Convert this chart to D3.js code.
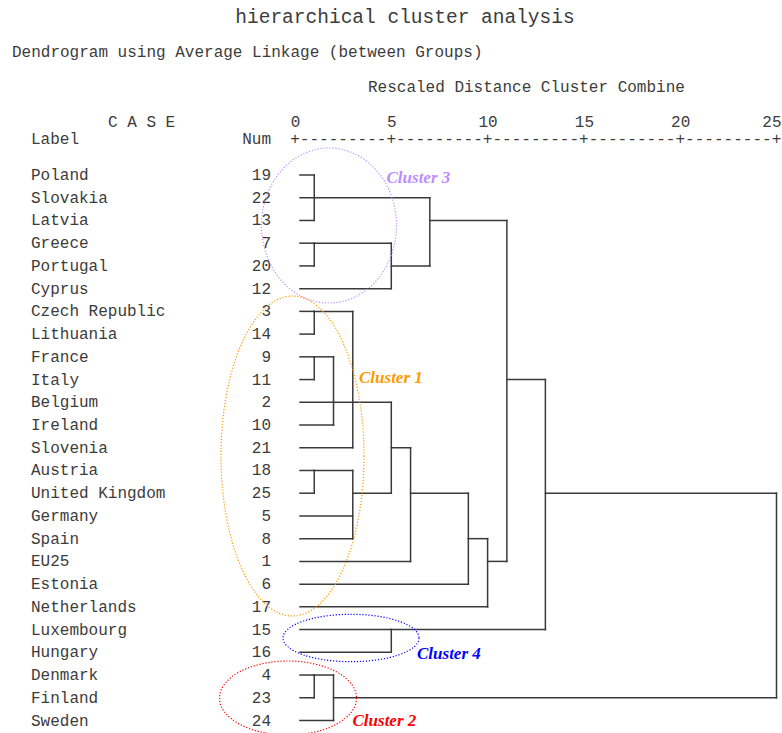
<!doctype html>
<html>
<head>
<meta charset="utf-8">
<title>hierarchical cluster analysis</title>
<script src="https://d3js.org/d3.v7.min.js"></script>
<style>
    body { margin: 0; background: #fff; }
    svg text.mono {
        font-family: "Liberation Mono", "Courier New", monospace;
        font-size: 16px;
        fill: #3c3c3c;
    }
    .link { fill: none; stroke: #3a3a3a; stroke-width: 1.5; }
    .cluster-label {
        font-family: "Liberation Serif", "Times New Roman", serif;
        font-size: 17px;
        font-weight: bold;
        font-style: italic;
    }
</style>
</head>
<body>
<div id="chart"></div>
<script>

// case labels and case numbers, in dendrogram order
const caseLabels = ["Poland", "Slovakia", "Latvia", "Greece", "Portugal", "Cyprus",
    "Czech Republic", "Lithuania", "France", "Italy", "Belgium", "Ireland", "Slovenia",
    "Austria", "United Kingdom", "Germany", "Spain", "EU25", "Estonia", "Netherlands",
    "Luxembourg", "Hungary", "Denmark", "Finland", "Sweden"];
const caseNums = [19, 22, 13, 7, 20, 12, 3, 14, 9, 11, 2, 10, 21, 18, 25, 5, 8, 1, 6, 17, 15, 16, 4, 23, 24];

// merges: children ("L" = leaf index, "M" = earlier merge), rescaled distance, row the joined line leaves on
const mergeKids = [
    ["L0", "L1", "L2"], ["L3", "L4"], ["M1", "L5"], ["M0", "M2"],
    ["L6", "L7"], ["L8", "L9"], ["M5", "L10", "L11"], ["M4", "M6", "L12"],
    ["L13", "L14"], ["M8", "L15", "L16"], ["M7", "M9"], ["M10", "L17"],
    ["M11", "L18"], ["M12", "L19"], ["M3", "M13"], ["L20", "L21"],
    ["M14", "M15"], ["L22", "L23"], ["M17", "L24"], ["M16", "M18"]
];
const mergeDist = [1, 1, 5, 7, 1, 1, 2, 3, 1, 3, 5, 6, 9, 10, 11, 5, 13, 1, 2, 25];
const mergeRow  = [1, 3, 4, 2, 6, 8, 10, 10, 13, 14, 12, 14, 16, 17, 9, 20, 14, 22, 23, 18];

// axis ticks
const axisTicks = [0, 5, 10, 15, 20, 25];

// cluster annotations
const clusterNames = ["Cluster 3", "Cluster 1", "Cluster 4", "Cluster 2"];
const clusterColors = ["#bd8dff", "#ff9a00", "#0000ff", "#ff0000"];

const w = 782, h = 733;

const svg = d3.select("#chart").append("svg")
    .attr("width", w)
    .attr("height", h);

const xScale = d3.scaleLinear().domain([0, 25]).range([295, 776.5]);
const yScale = d3.scaleLinear().domain([0, caseLabels.length - 1]).range([175, 720.5]);
const charW = (xScale(25) - xScale(0)) / 50;

// headings
svg.append("text").attr("class", "mono")
    .attr("x", 405).attr("y", 23)
    .attr("text-anchor", "middle")
    .style("font-size", "19.5px")
    .text("hierarchical cluster analysis");

svg.append("text").attr("class", "mono")
    .attr("x", 12).attr("y", 57)
    .text("Dendrogram using Average Linkage (between Groups)");

svg.append("text").attr("class", "mono")
    .attr("x", 368).attr("y", 92)
    .text("Rescaled Distance Cluster Combine");

svg.append("text").attr("class", "mono")
    .attr("x", 108).attr("y", 127)
    .text("C A S E");

svg.append("text").attr("class", "mono")
    .attr("x", 31).attr("y", 144)
    .text("Label");

svg.append("text").attr("class", "mono")
    .attr("x", 271).attr("y", 144)
    .attr("text-anchor", "end")
    .text("Num");

// axis: tick numbers from d3.axisTop, then the +----+ ruler
const xAxis = d3.axisTop(xScale)
    .tickValues(axisTicks)
    .tickSize(0)
    .tickPadding(0)
    .tickFormat(d3.format("d"));

const axisG = svg.append("g")
    .attr("transform", "translate(0,127)")
    .call(xAxis);
axisG.select(".domain").remove();
axisG.selectAll("text")
    .attr("class", "mono")
    .attr("dy", 0)
    .attr("y", 0)
    .attr("font-family", null)
    .attr("font-size", null)
    .attr("fill", null);
// last label sits flush with the end of the ruler
axisG.selectAll("text")
    .filter(function (d) { return d === 25; })
    .attr("text-anchor", "end")
    .attr("x", 4.5);

let ruler = "+";
axisTicks.slice(1).forEach(function () { ruler += "---------+"; });
svg.append("text").attr("class", "mono")
    .attr("x", xScale(0) - charW / 2)
    .attr("y", 144)
    .attr("textLength", charW * ruler.length)
    .attr("lengthAdjust", "spacing")
    .text(ruler);

// case labels and numbers
svg.selectAll("text.case-label")
    .data(caseLabels)
    .enter().append("text")
    .attr("class", "mono case-label")
    .attr("x", 31)
    .attr("y", function (d, i) { return yScale(i) + 5; })
    .text(function (d) { return d; });

svg.selectAll("text.case-num")
    .data(caseNums)
    .enter().append("text")
    .attr("class", "mono case-num")
    .attr("x", 271)
    .attr("y", function (d, i) { return yScale(i) + 5; })
    .attr("text-anchor", "end")
    .text(function (d) { return d; });

// dendrogram
const leafStart = 0.26;
const node = function (key) {
    const idx = +key.slice(1);
    if (key[0] === "L") return { row: idx, dist: leafStart };
    return { row: mergeRow[idx], dist: mergeDist[idx] };
};

const segs = [];
mergeKids.forEach(function (kids, m) {
    const xm = mergeDist[m];
    const rows = [];
    kids.forEach(function (k) {
        const c = node(k);
        rows.push(c.row);
        segs.push({ x1: c.dist, y1: c.row, x2: xm, y2: c.row });
    });
    segs.push({ x1: xm, y1: d3.min(rows), x2: xm, y2: d3.max(rows) });
});

svg.append("g").selectAll("line")
    .data(segs)
    .enter().append("line")
    .attr("class", "link")
    .attr("x1", function (d) { return xScale(d.x1); })
    .attr("x2", function (d) { return xScale(d.x2); })
    .attr("y1", function (d) { return yScale(d.y1); })
    .attr("y2", function (d) { return yScale(d.y2); })
    .attr("stroke-linecap", "square");

// hand-drawn cluster rings (annotation layout)
const rings = [
    { cx: 329, cy: 225.5, rx: 67.5, ry: 77.5, tx: 386.5, ty: 183 },
    { cx: 292.5, cy: 456, rx: 71.5, ry: 160, tx: 359, ty: 383 },
    { cx: 351, cy: 638, rx: 68, ry: 23.7, tx: 417, ty: 658.5 },
    { cx: 288, cy: 698, rx: 68.5, ry: 37, tx: 352.5, ty: 726 }
];

const ringG = svg.append("g").selectAll("g")
    .data(rings)
    .enter().append("g");

ringG.append("ellipse")
    .attr("cx", function (d) { return d.cx; })
    .attr("cy", function (d) { return d.cy; })
    .attr("rx", function (d) { return d.rx; })
    .attr("ry", function (d) { return d.ry; })
    .attr("fill", "none")
    .attr("stroke", function (d, i) { return clusterColors[i]; })
    .attr("stroke-width", 1.2)
    .attr("stroke-dasharray", "1.2,1.8");

ringG.append("text")
    .attr("class", "cluster-label")
    .attr("x", function (d) { return d.tx; })
    .attr("y", function (d) { return d.ty; })
    .attr("fill", function (d, i) { return clusterColors[i]; })
    .text(function (d, i) { return clusterNames[i]; });

</script>
</body>
</html>
